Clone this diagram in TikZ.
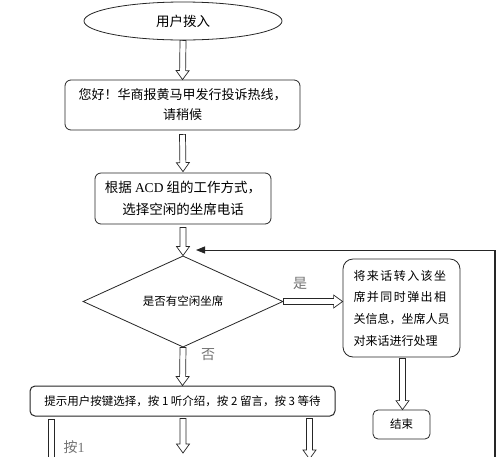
\documentclass[tikz,border=0pt]{standalone}
\usepackage{fontspec}
\setmainfont{Noto Sans CJK SC}
\newfontfamily\latinserif{Liberation Serif}
\newfontfamily\spacedcjk[LetterSpace=12]{Noto Sans CJK SC}
\usetikzlibrary{shapes.geometric,calc,arrows.meta}
\tikzset{
  box/.style={draw=black!85, line width=0.8pt, rounded corners=6pt, inner sep=0pt, align=center, font=\fontsize{13}{20}\selectfont},
  blockarrow/.style={draw=black!85, line width=0.7pt, fill=white, line join=miter},
  lbl/.style={text=black!55, inner sep=0pt, font=\fontsize{14}{16}\selectfont},
}
\newcommand\arrW{3pt}
\newcommand\arrH{6.5pt}
\newcommand\arrL{9pt}
\newcommand\blockarrow[2]{%
  \coordinate (ba-s) at (#1);
  \coordinate (ba-t) at (#2);
  \coordinate (ba-b) at ($(ba-t)!\arrL!(ba-s)$);
  \draw[blockarrow] ($(ba-s)!\arrW!90:(ba-t)$) -- ($(ba-b)!\arrW!90:(ba-t)$) -- ($(ba-b)!\arrH!90:(ba-t)$) -- (ba-t) -- ($(ba-b)!\arrH!-90:(ba-t)$) -- ($(ba-b)!\arrW!-90:(ba-t)$) -- ($(ba-s)!\arrW!-90:(ba-t)$) -- cycle;
}
\begin{document}
\begin{tikzpicture}[x=1pt,y=-1pt]
\useasboundingbox (0,0) rectangle (500,456);
\clip (0,0) rectangle (500,456);
\fill[white] (0,0) rectangle (500,456);

\node[ellipse, draw=black!85, line width=0.8pt, minimum width=198pt, minimum height=38pt, inner sep=0pt, font=\fontsize{13.5}{16}\selectfont] (start) at (183,21) {用户拨入};
\node[box, minimum width=235pt, minimum height=50pt] (greet) at (182.5,105) {您好！华商报黄马甲发行投诉热线，\\请稍候};
\node[box, minimum width=176pt, minimum height=51pt, font=\fontsize{13.5}{22}\selectfont] (acd) at (183,198.5) {根据 {\latinserif ACD} 组的工作方式，\\选择空闲的坐席电话};
\node[diamond, draw=black!85, line width=0.8pt, minimum width=200pt, minimum height=49pt, inner sep=0pt, font=\fontsize{11.5}{14}\selectfont] (free) at (183,301.5) {是否有空闲坐席};
\node[box, rounded corners=10pt, minimum width=117pt, minimum height=98pt, align=left, font=\fontsize{12}{21.7}\selectfont] (transfer) at (401.5,308) {{\spacedcjk 将来话转入该坐}\\{\spacedcjk 席并同时弹出相}\\关信息，坐席人员\\对来话进行处理};
\node[box, rounded corners=5pt, minimum width=57pt, minimum height=29pt, font=\fontsize{11.5}{14}\selectfont] (end) at (401.5,424.5) {结束};
\node[box, line width=1pt, rounded corners=5pt, minimum width=305pt, minimum height=30pt, font=\fontsize{11.5}{14}\selectfont] (menu) at (182.5,401) {提示用户按键选择，按 1 听介绍，按 2 留言，按 3 等待};

\blockarrow{start.south}{greet.north}
\blockarrow{[yshift=-4pt]greet.south}{[yshift=1pt]acd.north}
\blockarrow{[yshift=-3pt]acd.south}{free.north}
\blockarrow{free.east}{free.east -| transfer.west}
\blockarrow{free.south}{menu.north}
\blockarrow{[xshift=1pt,yshift=-1pt]transfer.south}{[xshift=1pt]end.north}

\coordinate (k1) at (51.5,480);
\coordinate (k2) at (183,453);
\coordinate (k3) at (309.5,459);
\blockarrow{[yshift=-3pt]menu.south -| k1}{k1}
\blockarrow{[yshift=-2pt]menu.south -| k2}{k2}
\blockarrow{[yshift=-2pt]menu.south -| k3}{k3}

\coordinate (fbB) at (495,470);
\coordinate (fbT) at (495,250);
\coordinate (fbE) at (196,250);
\draw[line width=1.8pt, black!85] (fbB) -- (fbT);
\draw[line width=0.9pt, black!85, -{Triangle[length=9pt,width=7pt]}] (fbT) -- (fbE);

\node[lbl] (yes) at (300,283) {是};
\node[lbl] (no) at (208,355) {否};
\node[lbl] (k1lbl) at (74,447) {按{\latinserif 1}};
\end{tikzpicture}
\end{document}
